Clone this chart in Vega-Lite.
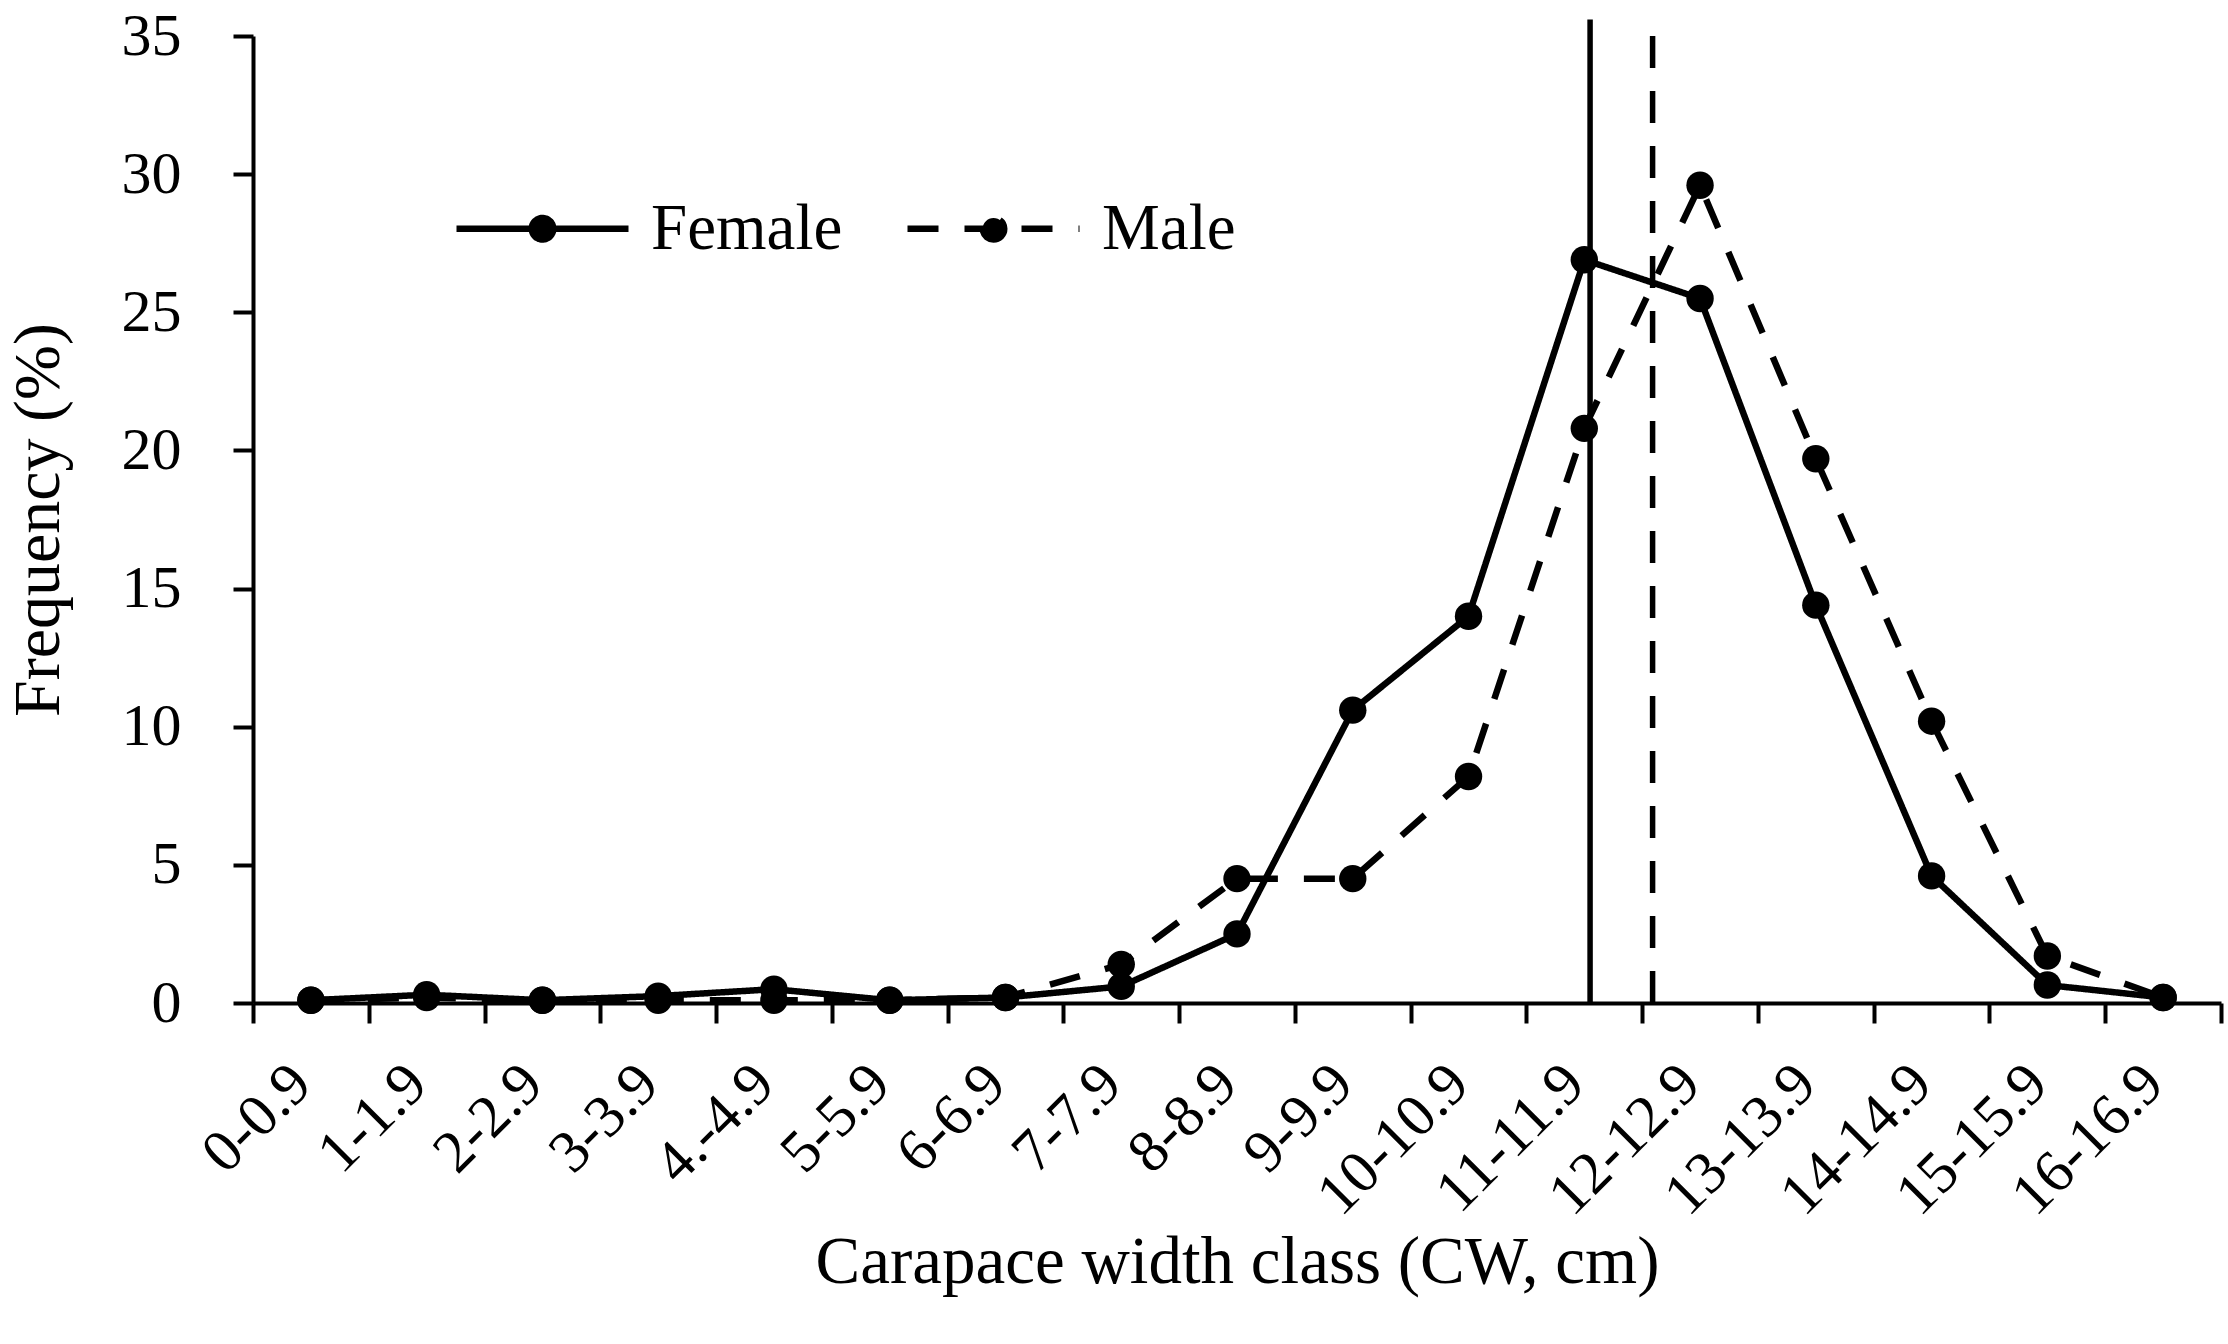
{
  "$schema": "https://vega.github.io/schema/vega-lite/v6.json",
  "width": 1968,
  "height": 967,
  "autosize": {"type": "none"},
  "padding": {"left": 253, "top": 36, "right": 7, "bottom": 341},
  "background": "white",
  "config": {
    "view": {"stroke": null},
    "font": "Liberation Serif",
    "axis": {
      "domainColor": "black",
      "tickColor": "black",
      "labelColor": "black",
      "titleColor": "black",
      "labelFont": "Liberation Serif",
      "titleFont": "Liberation Serif",
      "titleFontWeight": "normal",
      "grid": false,
      "domainWidth": 4,
      "tickWidth": 4,
      "tickSize": 20
    },
    "legend": {"labelFont": "Liberation Serif", "labelColor": "black"}
  },
  "datasets": {
    "freq": [
      {"cls": "0-0.9", "sex": "Female", "freq": 0.1},
      {"cls": "1-1.9", "sex": "Female", "freq": 0.3},
      {"cls": "2-2.9", "sex": "Female", "freq": 0.1},
      {"cls": "3-3.9", "sex": "Female", "freq": 0.25},
      {"cls": "4.-4.9", "sex": "Female", "freq": 0.5},
      {"cls": "5-5.9", "sex": "Female", "freq": 0.1},
      {"cls": "6-6.9", "sex": "Female", "freq": 0.2},
      {"cls": "7-7.9", "sex": "Female", "freq": 0.6},
      {"cls": "8-8.9", "sex": "Female", "freq": 2.5},
      {"cls": "9-9.9", "sex": "Female", "freq": 10.6},
      {"cls": "10-10.9", "sex": "Female", "freq": 14.0},
      {"cls": "11-11.9", "sex": "Female", "freq": 26.9},
      {"cls": "12-12.9", "sex": "Female", "freq": 25.5},
      {"cls": "13-13.9", "sex": "Female", "freq": 14.4},
      {"cls": "14-14.9", "sex": "Female", "freq": 4.6},
      {"cls": "15-15.9", "sex": "Female", "freq": 0.65},
      {"cls": "16-16.9", "sex": "Female", "freq": 0.2},
      {"cls": "0-0.9", "sex": "Male", "freq": 0.1},
      {"cls": "1-1.9", "sex": "Male", "freq": 0.2},
      {"cls": "2-2.9", "sex": "Male", "freq": 0.1},
      {"cls": "3-3.9", "sex": "Male", "freq": 0.1},
      {"cls": "4.-4.9", "sex": "Male", "freq": 0.1},
      {"cls": "5-5.9", "sex": "Male", "freq": 0.1},
      {"cls": "6-6.9", "sex": "Male", "freq": 0.2},
      {"cls": "7-7.9", "sex": "Male", "freq": 1.4},
      {"cls": "8-8.9", "sex": "Male", "freq": 4.5},
      {"cls": "9-9.9", "sex": "Male", "freq": 4.5},
      {"cls": "10-10.9", "sex": "Male", "freq": 8.2},
      {"cls": "11-11.9", "sex": "Male", "freq": 20.8},
      {"cls": "12-12.9", "sex": "Male", "freq": 29.6},
      {"cls": "13-13.9", "sex": "Male", "freq": 19.7},
      {"cls": "14-14.9", "sex": "Male", "freq": 10.2},
      {"cls": "15-15.9", "sex": "Male", "freq": 1.7},
      {"cls": "16-16.9", "sex": "Male", "freq": 0.2}
    ],
    "means": [
      {"sex": "Female", "cw": 11.55, "top": 35.6},
      {"sex": "Male", "cw": 12.09, "top": 35}
    ]
  },
  "layer": [
    {
      "data": {"name": "freq"},
      "encoding": {
        "x": {
          "field": "cls",
          "type": "nominal",
          "sort": null,
          "scale": {"type": "band", "paddingInner": 0, "paddingOuter": 0},
          "axis": {
            "title": "Carapace width class (CW, cm)",
            "tickBand": "extent",
            "labelAngle": -45,
            "labelAlign": "right",
            "labelBaseline": "middle",
            "labelFontSize": 60,
            "labelPadding": 51,
            "labelOffset": -10,
            "labelOverlap": false,
            "labelLimit": 0,
            "labelBound": false,
            "titleFontSize": 67,
            "titlePadding": 26
          }
        },
        "y": {
          "field": "freq",
          "type": "quantitative",
          "scale": {"domain": [0, 35], "nice": false},
          "axis": {
            "title": "Frequency (%)",
            "values": [0, 5, 10, 15, 20, 25, 30, 35],
            "labelFontSize": 60,
            "labelPadding": 52,
            "titleFontSize": 66,
            "titlePadding": 49
          }
        }
      },
      "layer": [
        {
          "mark": {"type": "line", "strokeWidth": 6.5, "color": "black"},
          "encoding": {
            "strokeDash": {
              "field": "sex",
              "type": "nominal",
              "scale": {"domain": ["Female", "Male"], "range": [[1, 0], [31, 26]]},
              "legend": {
                "orient": "none",
                "legendX": 200,
                "legendY": 103,
                "direction": "horizontal",
                "title": null,
                "padding": 0,
                "labelFontSize": 65,
                "labelLimit": 0,
                "labelOffset": 19,
                "columnPadding": 51,
                "symbolType": "M -1 0 L 1 0 M 0.125 0 A 0.125 0.125 0 1 1 -0.125 0 A 0.125 0.125 0 1 1 0.125 0 Z",
                "symbolSize": 29584,
                "symbolStrokeWidth": 6.5,
                "symbolFillColor": "black",
                "symbolStrokeColor": "black"
              }
            }
          }
        },
        {
          "mark": {"type": "point", "filled": true, "size": 750, "color": "black", "opacity": 1},
          "encoding": {
            "detail": {"field": "sex", "type": "nominal"}
          }
        }
      ]
    },
    {
      "data": {"name": "means"},
      "mark": {"type": "rule", "strokeWidth": 5.5, "color": "black"},
      "encoding": {
        "x": {"field": "cw", "type": "quantitative", "scale": {"domain": [0, 17], "nice": false, "zero": false}, "axis": null},
        "y": {"field": "top", "type": "quantitative"},
        "y2": {"datum": 0},
        "strokeDash": {
          "field": "sex",
          "type": "nominal",
          "scale": {"domain": ["Female", "Male"], "range": [[1, 0], [32, 23]]},
          "legend": null
        }
      }
    }
  ],
  "resolve": {"scale": {"x": "independent", "strokeDash": "independent"}}
}
